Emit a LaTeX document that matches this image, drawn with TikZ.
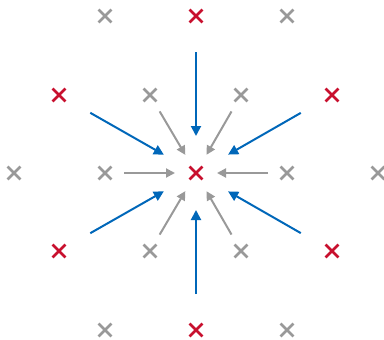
\documentclass[tikz,border=0pt]{standalone}
\usetikzlibrary{shapes.misc,arrows.meta}
\definecolor{xred}{HTML}{C8102E}
\definecolor{xblue}{HTML}{0067B9}
\definecolor{xgray}{HTML}{999999}
\tikzset{
  xmark/.style={cross out, draw=#1, line width=2.8pt, minimum size=10pt, inner sep=0pt},
  redx/.style={xmark=xred},
  grayx/.style={xmark=xgray},
  bluearrow/.style={draw=xblue, line width=2pt, -{Triangle[length=10pt,width=10pt]}, shorten <=36pt, shorten >=37pt},
  grayarrow/.style={draw=xgray, line width=2pt, -{Triangle[length=9pt,width=9pt]}, shorten <=19pt, shorten >=21pt}
}
\begin{document}
\begin{tikzpicture}[x=1pt,y=-1pt]
\useasboundingbox (0,0) rectangle (384,340);
% row 1
\node[grayx] (g1) at (105,16) {};
\node[redx]  (r1) at (196,16) {};
\node[grayx] (g2) at (287,16) {};
% row 2
\node[redx]  (r2) at (59,95) {};
\node[grayx] (g3) at (150,95) {};
\node[grayx] (g4) at (241,95) {};
\node[redx]  (r3) at (332,95) {};
% row 3
\node[grayx] (g5) at (14,173) {};
\node[grayx] (g6) at (105,173) {};
\node[redx]  (c)  at (196,173) {};
\node[grayx] (g7) at (287,173) {};
\node[grayx] (g8) at (378,173) {};
% row 4
\node[redx]  (r4) at (59,251) {};
\node[grayx] (g9) at (150,251) {};
\node[grayx] (g10) at (241,251) {};
\node[redx]  (r5) at (332,251) {};
% row 5
\node[grayx] (g11) at (105,330) {};
\node[redx]  (r6) at (196,330) {};
\node[grayx] (g12) at (287,330) {};
% blue arrows
\foreach \n in {r1,r2,r3,r4,r5,r6} \draw[bluearrow] (\n.center) -- (c.center);
% gray arrows
\foreach \n in {g3,g4,g6,g7,g9,g10} \draw[grayarrow] (\n.center) -- (c.center);
\end{tikzpicture}
\end{document}
